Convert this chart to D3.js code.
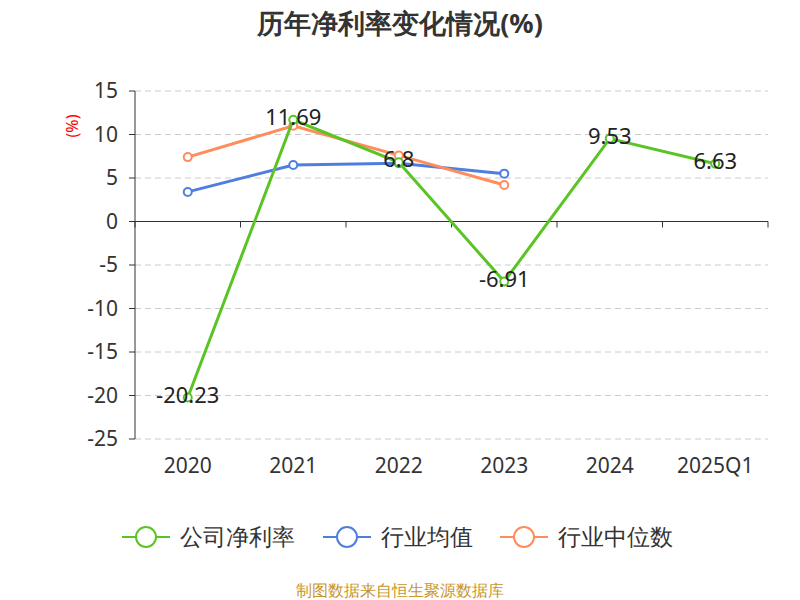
<!DOCTYPE html><html><head><meta charset="utf-8"><script src="https://cdn.jsdelivr.net/npm/d3@7"></script>
<style>body{margin:0;background:#fff}text{font-family:"Noto Sans",sans-serif}</style></head><body><svg id="c" width="800" height="600"></svg>
<script>
const categories=["2020","2021","2022","2023","2024","2025Q1"];
const company=[-20.23,11.69,6.8,-6.91,9.53,6.63];
const industryAvg=[3.4,6.5,6.7,5.5,null,null];
const industryMedian=[7.4,11.0,7.6,4.2,null,null];
const yTicks=[15,10,5,0,-5,-10,-15,-20,-25];
const svg=d3.select("#c");
const x=d3.scaleBand().domain(categories).range([135,768]);
const y=d3.scaleLinear().domain([-25,15]).range([439,91]);
svg.append("text").attr("x",400).attr("y",33).attr("text-anchor","middle").attr("font-size",27).attr("font-weight","bold").attr("fill","#333").text("历年净利率变化情况(%)");
yTicks.forEach(t=>{ if(t!==0) svg.append("line").attr("x1",135).attr("x2",768).attr("y1",y(t)).attr("y2",y(t)).attr("stroke","#ccc").attr("stroke-dasharray","6,4");
 svg.append("line").attr("x1",129).attr("x2",135).attr("y1",y(t)).attr("y2",y(t)).attr("stroke","#333");
 svg.append("text").attr("x",118).attr("y",y(t)+7).attr("text-anchor","end").attr("font-size",21).attr("fill","#333").text(t);});
svg.append("line").attr("x1",135).attr("x2",135).attr("y1",91).attr("y2",439).attr("stroke","#333");
svg.append("line").attr("x1",135).attr("x2",768).attr("y1",y(0)).attr("y2",y(0)).attr("stroke","#333");
categories.concat([null]).forEach((c,i)=>{const xx=135+i*x.bandwidth();svg.append("line").attr("x1",xx).attr("x2",xx).attr("y1",y(0)).attr("y2",y(0)+6).attr("stroke","#333");});
categories.forEach(c=>svg.append("text").attr("x",x(c)+x.bandwidth()/2).attr("y",473).attr("text-anchor","middle").attr("font-size",21).attr("fill","#333").text(c));
svg.append("text").attr("transform","translate(78,126) rotate(-90)").attr("text-anchor","middle").attr("font-size",16).attr("fill","red").text("(%)");
const cx=c=>x(c)+x.bandwidth()/2;
function series(vals,color){const pts=categories.map((c,i)=>[c,vals[i]]).filter(d=>d[1]!=null);
 svg.append("path").attr("d",d3.line().x(d=>cx(d[0])).y(d=>y(d[1]))(pts)).attr("fill","none").attr("stroke",color).attr("stroke-width",3);
 pts.forEach(d=>svg.append("circle").attr("cx",cx(d[0])).attr("cy",y(d[1])).attr("r",4).attr("fill","#fff").attr("stroke",color).attr("stroke-width",2));}
series(industryAvg,"#4e7fe0");
series(industryMedian,"#ff8c5a");
series(company,"#5bc425");
categories.forEach((c,i)=>svg.append("text").attr("x",cx(c)).attr("y",y(company[i])+5).attr("text-anchor","middle").attr("font-size",22).attr("fill","#222").text(company[i]));
const leg=[["公司净利率","#5bc425",122],["行业均值","#4e7fe0",323],["行业中位数","#ff8c5a",500]];
leg.forEach(([t,c,lx])=>{svg.append("line").attr("x1",lx).attr("x2",lx+48).attr("y1",537).attr("y2",537).attr("stroke",c).attr("stroke-width",2);
 svg.append("circle").attr("cx",lx+24).attr("cy",537).attr("r",10).attr("fill","#fff").attr("stroke",c).attr("stroke-width",2);
 svg.append("text").attr("x",lx+58).attr("y",545).attr("font-size",23).attr("fill","#333").text(t);});
svg.append("text").attr("x",400).attr("y",596).attr("text-anchor","middle").attr("font-size",16).attr("fill","#c8962a").text("制图数据来自恒生聚源数据库");
</script></body></html>
